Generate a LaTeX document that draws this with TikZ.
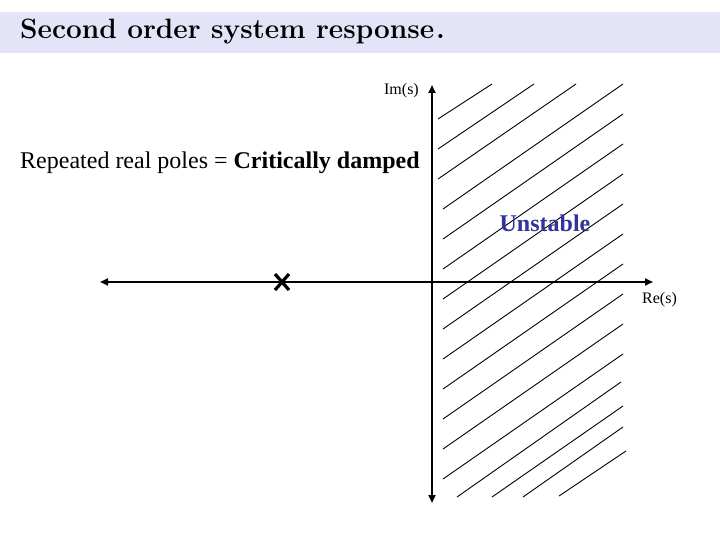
\documentclass[tikz,border=0pt]{standalone}
\usepackage{fontspec}
\newfontfamily\tnr{Liberation Serif}
\usetikzlibrary{arrows.meta}
\definecolor{band}{HTML}{E4E4F8}
\definecolor{unst}{HTML}{333399}
\tikzset{
  axis/.style={line width=2.4pt,{Triangle[length=8pt,width=7pt]}-{Triangle[length=8pt,width=7pt]}},
  hatch/.style={line width=0.9pt},
  polemark/.style={line width=3.2pt},
  lbl/.style={inner sep=0pt,font=\tnr\fontsize{16}{18}\selectfont},
}
\begin{document}
\begin{tikzpicture}[x=1pt,y=-1pt]
\useasboundingbox (0,0) rectangle (720,540);
\fill[band] (0,12) rectangle (720,53);
\node[inner sep=0pt,anchor=base west,font=\fontsize{28}{32}\selectfont\bfseries] (title) at (20,39) {Second order system response\kern2pt.};
% hatch
\foreach \xl/\yl/\xr/\yr in {438/119/492/84, 438/149/534/84, 438/179/576/84,
  457/497/621/382, 492/497/623/406, 523/497/623/427, 559/496/626/451}{
  \draw[hatch] (\xl,\yl) -- (\xr,\yr);
}
\foreach \k in {0,...,9}{
  \draw[hatch] (443,209+30*\k) -- (623,84+30*\k);
}
% axes
\coordinate (imtop) at (432,85);
\coordinate (imbot) at (432,503);
\coordinate (releft) at (100,282);
\coordinate (reright) at (653,282);
\draw[axis] (imbot) -- (imtop);
\draw[axis] (releft) -- (reright);
% pole
\coordinate (pole) at (282,282);
\draw[polemark] ([shift={(-7,-8)}]pole) -- ([shift={(7,8)}]pole);
\draw[polemark] ([shift={(-7,8)}]pole) -- ([shift={(7,-8)}]pole);
% labels
\node[lbl,anchor=east] (im) at (419,91) {Im(s)};
\node[lbl,anchor=west] (re) at (642,300) {Re(s)};
\node[inner sep=0pt,anchor=base,font=\tnr\fontsize{24}{28}\selectfont\bfseries,text=unst] (unstable) at (545,231) {Unstable};
\node[inner sep=0pt,anchor=base west,font=\tnr\fontsize{24}{28}\selectfont] (crit) at (20,169) {Repeated real poles = \textbf{Critically damped}};
\end{tikzpicture}
\end{document}
